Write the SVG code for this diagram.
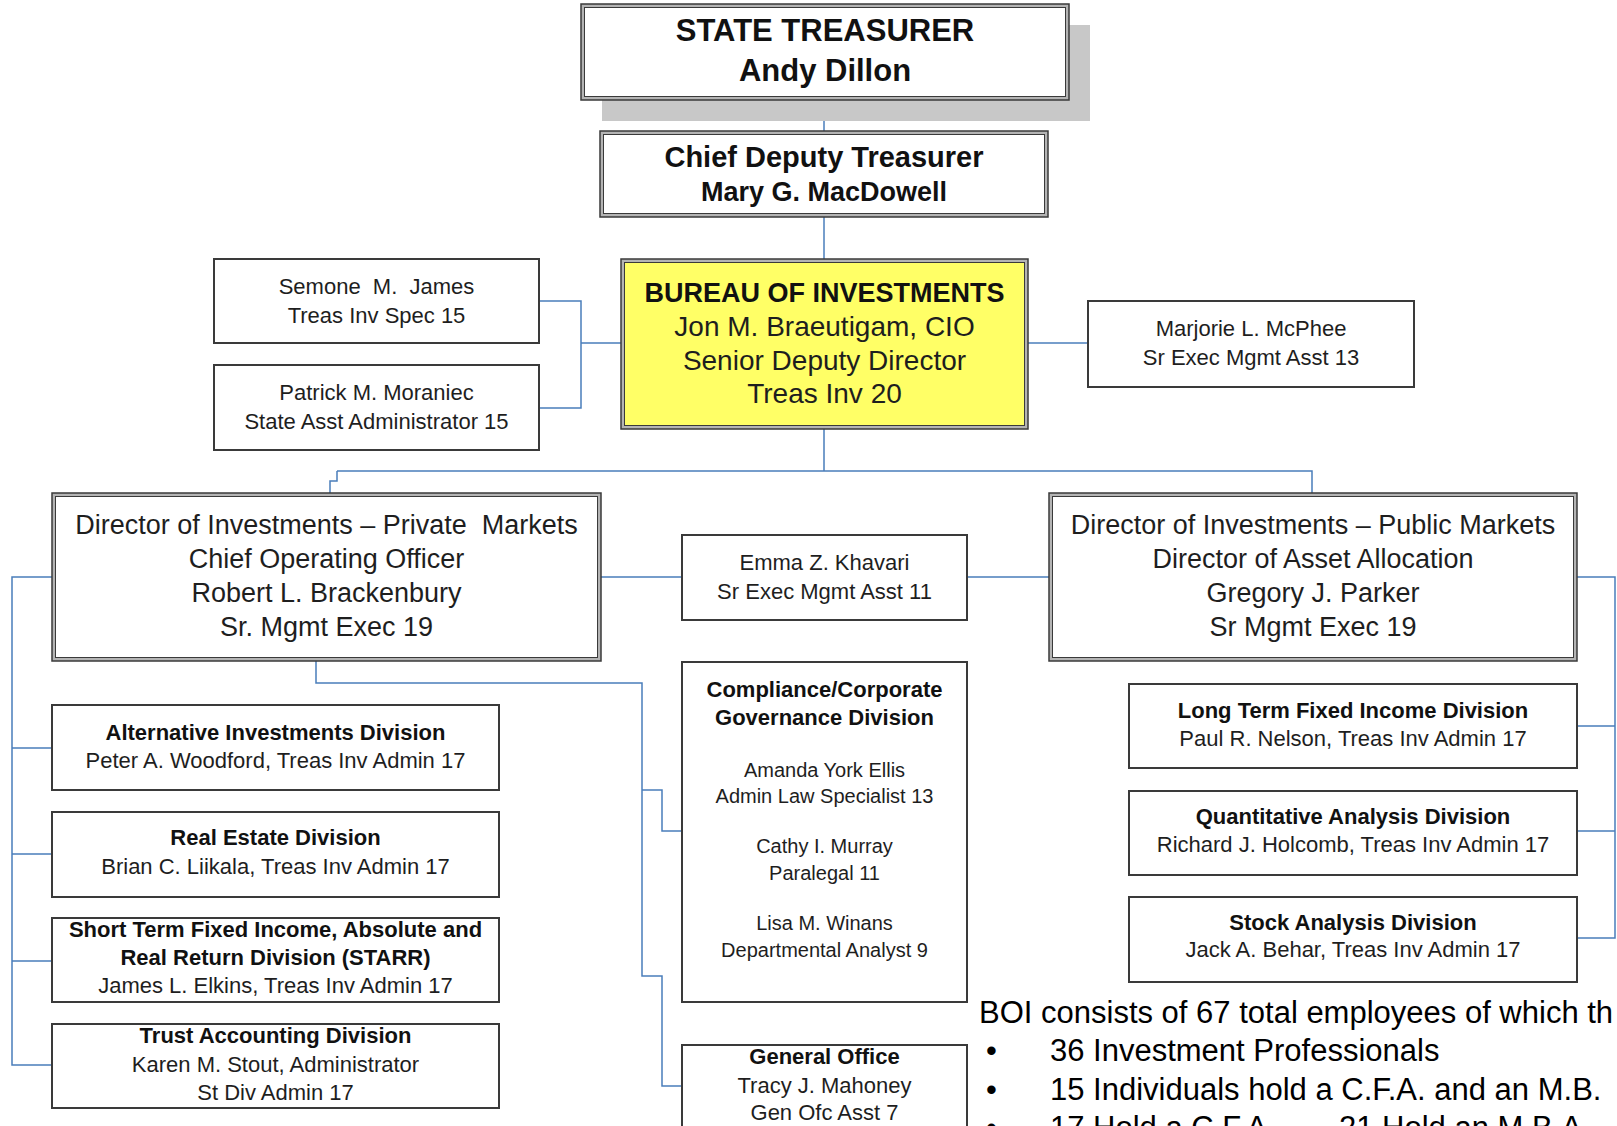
<svg xmlns="http://www.w3.org/2000/svg" width="1617" height="1126" viewBox="0 0 1617 1126">
<style>
.bg{fill:#ffffff}
.dbo{fill:#b4b4b4;stroke:#3a3a3a;stroke-width:1.5}
.dbi{fill:#ffffff;stroke:#3a3a3a;stroke-width:1}
.dbiy{fill:#ffff66;stroke:#3a3a3a;stroke-width:1}
.sb{fill:#ffffff;stroke:#3a3a3a;stroke-width:2}
.sh{fill:#c8c8c8}
.c{fill:none;stroke:#4a7ebb;stroke-width:1.5}
text{font-family:"Liberation Sans",Arial,sans-serif;text-anchor:middle;fill:#1e1e1e}
.b{font-weight:bold;fill:#111}
.f31{font-size:31px}
.f29{font-size:29px}
.f28{font-size:28px}
.f27{font-size:27px}
.f22{font-size:22px}
.f20{font-size:20px}
.note{font-size:31px;text-anchor:start;fill:#000}
</style>
<rect class="bg" x="0" y="0" width="1617" height="1126"/>
<g id="connectors">
<path class="c" d="M824 100V131"/>
<path class="c" d="M824 217V259"/>
<path class="c" d="M539 301H581V408H539M581 343H621"/>
<path class="c" d="M1028 343H1088"/>
<path class="c" d="M824 429V471M337 471H1312V493M337 471V481H330V493"/>
<path class="c" d="M601 577H682M967 577H1049"/>
<path class="c" d="M52 577H12V1065H52M12 748H52M12 854H52M12 961H52"/>
<path class="c" d="M1577 577H1615V938H1577M1577 726H1615M1577 831H1615"/>
<path class="c" d="M316 661V683H642V976H662V1086H682M642 790H662V831H682"/>
</g>
<g id="state-treasurer">
<rect class="sh" x="602" y="25" width="488" height="96"/>
<rect class="dbo" x="581" y="4" width="488" height="96"/>
<rect class="dbi" x="584.5" y="7.5" width="481" height="89"/>
<text class="b f31" x="825" y="41">STATE TREASURER</text>
<text class="b f31" x="825" y="81">Andy Dillon</text>
</g>
<g id="chief-deputy">
<rect class="dbo" x="600" y="131" width="448" height="86"/>
<rect class="dbi" x="603.5" y="134.5" width="441" height="79"/>
<text class="b f29" x="824" y="167">Chief Deputy Treasurer</text>
<text class="b f27" x="824" y="201">Mary G. MacDowell</text>
</g>
<g id="bureau">
<rect class="dbo" x="621" y="259" width="407" height="170"/>
<rect class="dbiy" x="624.5" y="262.5" width="400" height="163"/>
<text class="b f27" x="824.5" y="302">BUREAU OF INVESTMENTS</text>
<text class="f28" x="824.5" y="336">Jon M. Braeutigam, CIO</text>
<text class="f28" x="824.5" y="370">Senior Deputy Director</text>
<text class="f28" x="824.5" y="403">Treas Inv 20</text>
</g>
<g id="semone">
<rect class="sb" x="214" y="259" width="325" height="84"/>
<text class="f22" x="376.5" y="294" xml:space="preserve">Semone  M.  James</text>
<text class="f22" x="376.5" y="323">Treas Inv Spec 15</text>
</g>
<g id="patrick">
<rect class="sb" x="214" y="365" width="325" height="85"/>
<text class="f22" x="376.5" y="400">Patrick M. Moraniec</text>
<text class="f22" x="376.5" y="429">State Asst Administrator 15</text>
</g>
<g id="marjorie">
<rect class="sb" x="1088" y="301" width="326" height="86"/>
<text class="f22" x="1251" y="336">Marjorie L. McPhee</text>
<text class="f22" x="1251" y="365">Sr Exec Mgmt Asst 13</text>
</g>
<g id="private-markets">
<rect class="dbo" x="52" y="493" width="549" height="168"/>
<rect class="dbi" x="55.5" y="496.5" width="542" height="161"/>
<text class="f27" x="326.5" y="534" xml:space="preserve">Director of Investments – Private  Markets</text>
<text class="f27" x="326.5" y="568">Chief Operating Officer</text>
<text class="f27" x="326.5" y="602">Robert L. Brackenbury</text>
<text class="f27" x="326.5" y="636">Sr. Mgmt Exec 19</text>
</g>
<g id="emma">
<rect class="sb" x="682" y="535" width="285" height="85"/>
<text class="f22" x="824.5" y="570">Emma Z. Khavari</text>
<text class="f22" x="824.5" y="599">Sr Exec Mgmt Asst 11</text>
</g>
<g id="public-markets">
<rect class="dbo" x="1049" y="493" width="528" height="168"/>
<rect class="dbi" x="1052.5" y="496.5" width="521" height="161"/>
<text class="f27" x="1313" y="534">Director of Investments – Public Markets</text>
<text class="f27" x="1313" y="568">Director of Asset Allocation</text>
<text class="f27" x="1313" y="602">Gregory J. Parker</text>
<text class="f27" x="1313" y="636">Sr Mgmt Exec 19</text>
</g>
<g id="alternative">
<rect class="sb" x="52" y="705" width="447" height="85"/>
<text class="b f22" x="275.5" y="740">Alternative Investments Division</text>
<text class="f22" x="275.5" y="768">Peter A. Woodford, Treas Inv Admin 17</text>
</g>
<g id="real-estate">
<rect class="sb" x="52" y="812" width="447" height="85"/>
<text class="b f22" x="275.5" y="845">Real Estate Division</text>
<text class="f22" x="275.5" y="874">Brian C. Liikala, Treas Inv Admin 17</text>
</g>
<g id="starr">
<rect class="sb" x="52" y="918" width="447" height="84"/>
<text class="b f22" x="275.5" y="937">Short Term Fixed Income, Absolute and</text>
<text class="b f22" x="275.5" y="965">Real Return Division (STARR)</text>
<text class="f22" x="275.5" y="993">James L. Elkins, Treas Inv Admin 17</text>
</g>
<g id="trust">
<rect class="sb" x="52" y="1024" width="447" height="84"/>
<text class="b f22" x="275.5" y="1043">Trust Accounting Division</text>
<text class="f22" x="275.5" y="1072">Karen M. Stout, Administrator</text>
<text class="f22" x="275.5" y="1100">St Div Admin 17</text>
</g>
<g id="compliance">
<rect class="sb" x="682" y="662" width="285" height="340"/>
<text class="b f22" x="824.5" y="697">Compliance/Corporate</text>
<text class="b f22" x="824.5" y="725">Governance Division</text>
<text class="f20" x="824.5" y="777">Amanda York Ellis</text>
<text class="f20" x="824.5" y="803">Admin Law Specialist 13</text>
<text class="f20" x="824.5" y="853">Cathy I. Murray</text>
<text class="f20" x="824.5" y="880">Paralegal 11</text>
<text class="f20" x="824.5" y="930">Lisa M. Winans</text>
<text class="f20" x="824.5" y="957">Departmental Analyst 9</text>
</g>
<g id="general-office">
<rect class="sb" x="682" y="1045" width="285" height="100"/>
<text class="b f22" x="824.5" y="1064">General Office</text>
<text class="f22" x="824.5" y="1093">Tracy J. Mahoney</text>
<text class="f22" x="824.5" y="1120">Gen Ofc Asst 7</text>
</g>
<g id="long-term">
<rect class="sb" x="1129" y="684" width="448" height="84"/>
<text class="b f22" x="1353" y="718">Long Term Fixed Income Division</text>
<text class="f22" x="1353" y="746">Paul R. Nelson, Treas Inv Admin 17</text>
</g>
<g id="quantitative">
<rect class="sb" x="1129" y="791" width="448" height="84"/>
<text class="b f22" x="1353" y="824">Quantitative Analysis Division</text>
<text class="f22" x="1353" y="852">Richard J. Holcomb, Treas Inv Admin 17</text>
</g>
<g id="stock">
<rect class="sb" x="1129" y="897" width="448" height="85"/>
<text class="b f22" x="1353" y="930">Stock Analysis Division</text>
<text class="f22" x="1353" y="957">Jack A. Behar, Treas Inv Admin 17</text>
</g>
<g id="note">
<text class="note" x="979" y="1023">BOI consists of 67 total employees of which th</text>
<text class="note" x="986" y="1061">•</text>
<text class="note" x="1050" y="1061">36 Investment Professionals</text>
<text class="note" x="986" y="1100">•</text>
<text class="note" x="1050" y="1100">15 Individuals hold a C.F.A. and an M.B.</text>
<text class="note" x="986" y="1138">•</text>
<text class="note" x="1050" y="1138">17 Hold a C.F.A.</text>
<text class="note" x="1339" y="1138">21 Hold an M.B.A.</text>
</g>
</svg>
